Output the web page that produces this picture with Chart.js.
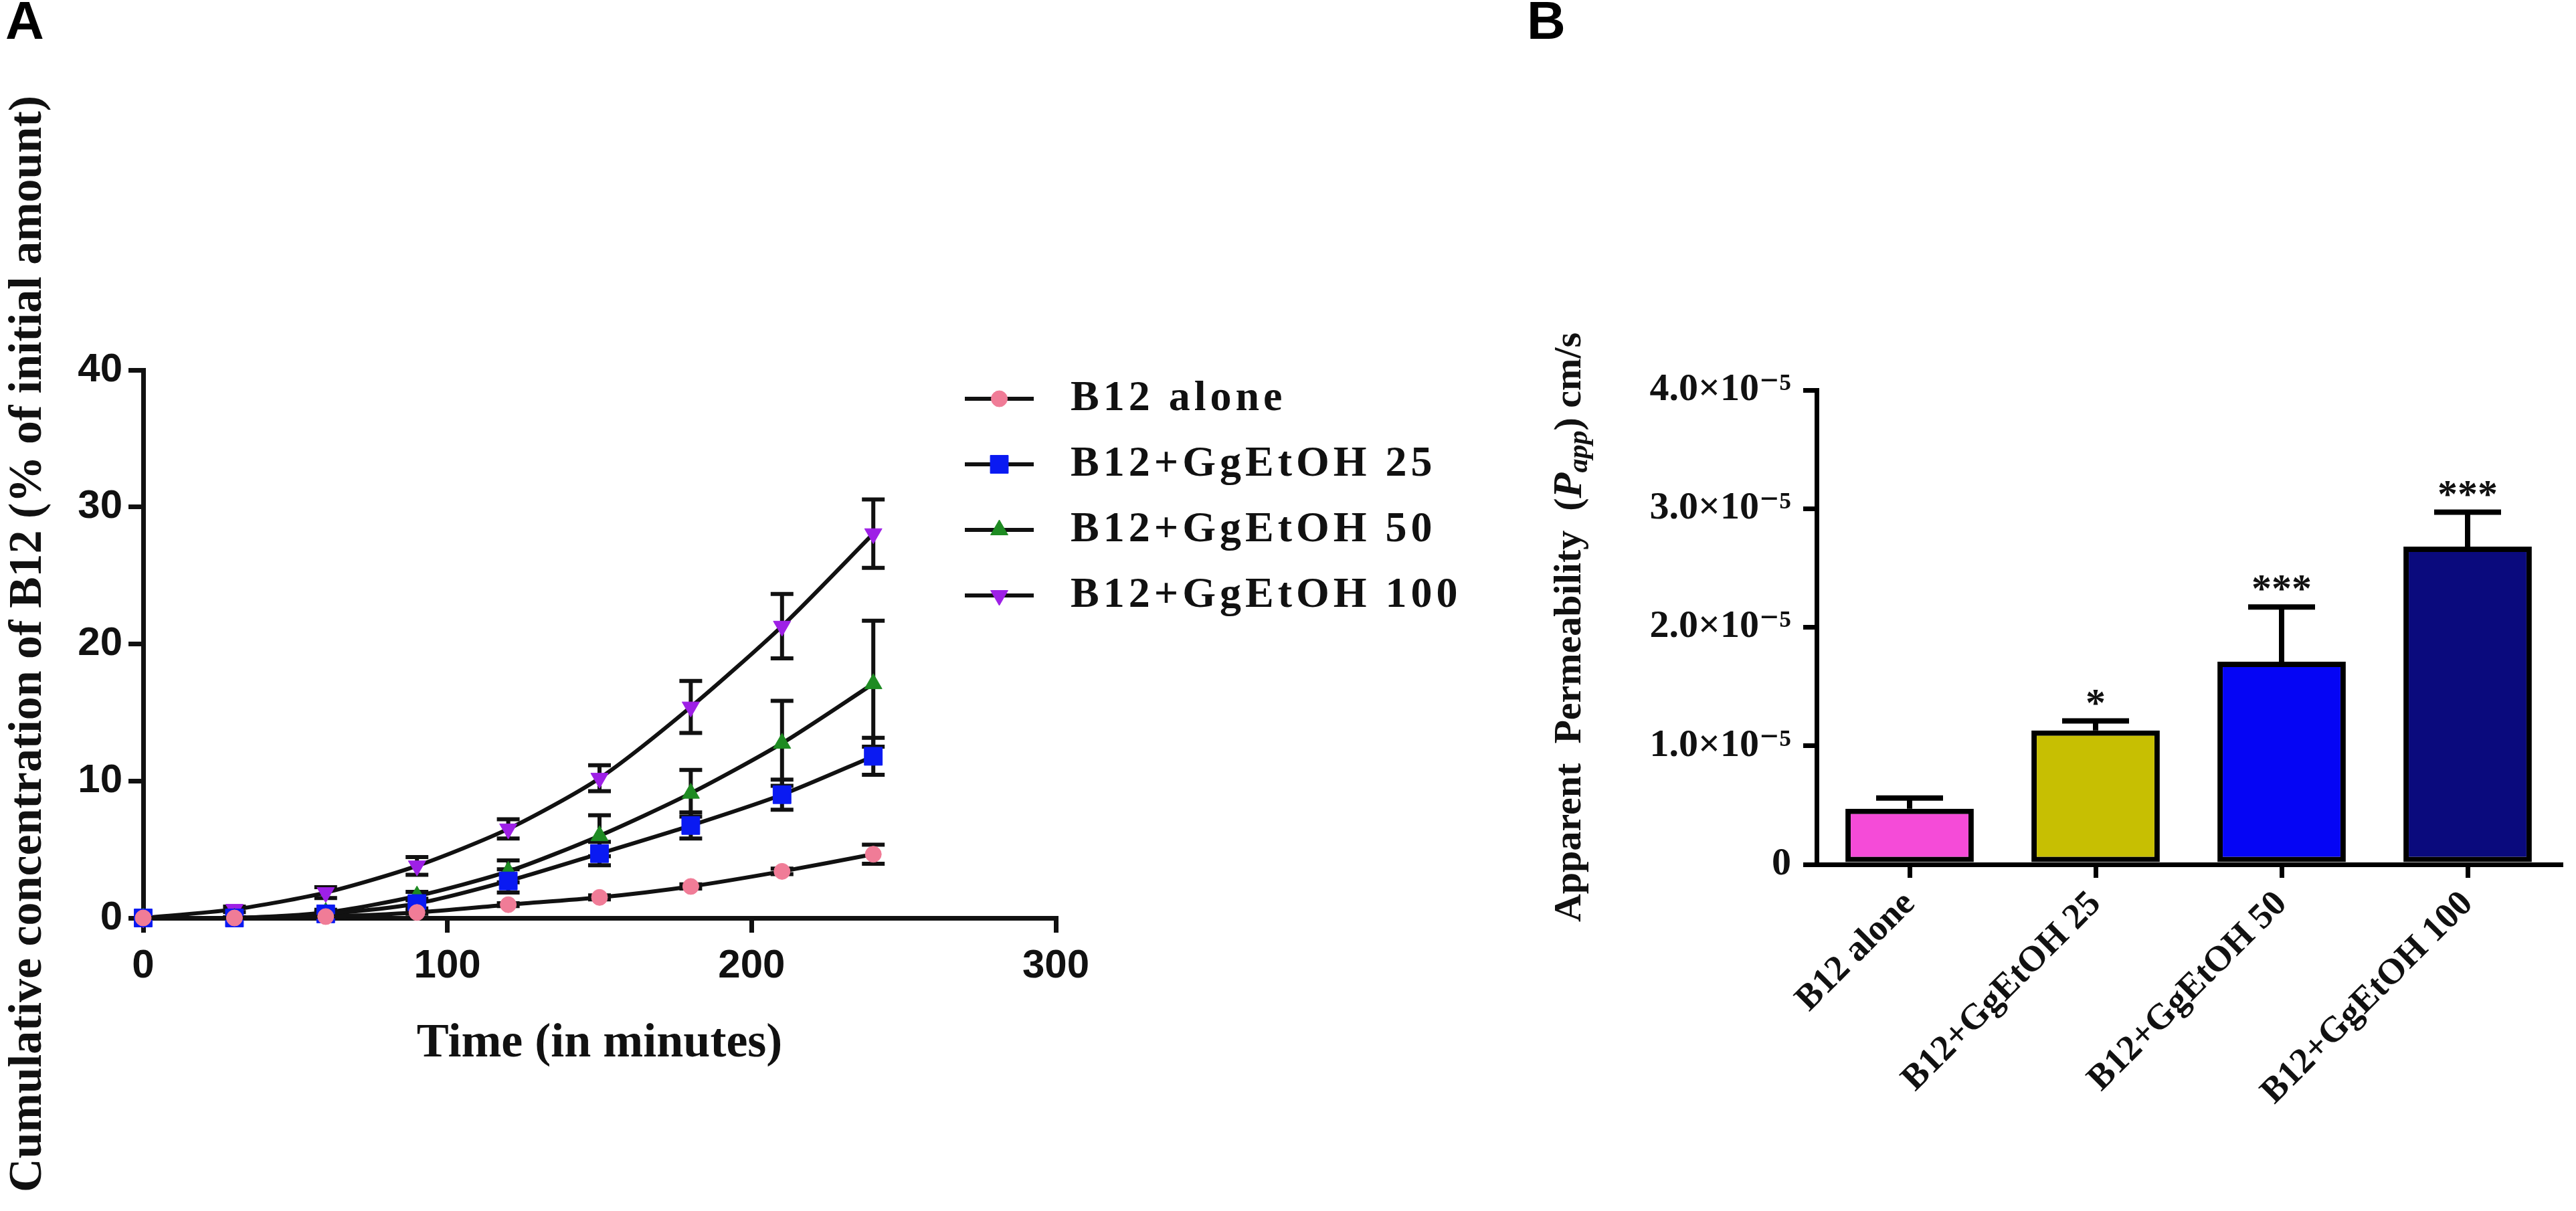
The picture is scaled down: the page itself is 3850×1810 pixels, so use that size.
<!DOCTYPE html>
<html>
<head>
<meta charset="utf-8">
<script src="https://cdn.jsdelivr.net/npm/chart.js@4.4.1/dist/chart.umd.min.js"></script>
<style>
  html, body { margin: 0; padding: 0; background: #fff; }
  body { width: 3850px; height: 1810px; position: relative; overflow: hidden; }
  #chartA { position: absolute; left: 0; top: 0; }
  #chartB { position: absolute; left: 2250px; top: 0; }
</style>
</head>
<body>
<canvas id="chartA" width="2250" height="1810"></canvas>
<canvas id="chartB" width="1600" height="1810"></canvas>
<script>
const SERIF = "'Liberation Serif', 'Times New Roman', 'DejaVu Serif', serif";
const SANS = "'Liberation Sans', Arial, sans-serif";

// Panel A - cumulative concentration (% of initial amount) vs time
const times = [0, 30, 60, 90, 120, 150, 180, 210, 240];
const seriesNames = ['B12 alone', 'B12+GgEtOH 25', 'B12+GgEtOH 50', 'B12+GgEtOH 100'];
const alone = [0, 0, 0.1, 0.4, 0.97, 1.5, 2.3, 3.4, 4.65];
const aloneErr = [0, 0, 0.05, 0.1, 0.1, 0.15, 0.15, 0.2, 0.7];
const gg25 = [0, 0, 0.3, 1.05, 2.7, 4.7, 6.75, 9.0, 11.8];
const gg25Err = [0, 0.05, 0.15, 0.35, 0.85, 0.85, 0.95, 1.1, 1.35];
const gg50 = [0, 0, 0.4, 1.6, 3.4, 6.0, 9.1, 12.75, 17.1];
const gg50Err = [0, 0.05, 0.2, 0.3, 0.8, 1.5, 1.7, 3.1, 4.6];
const gg100 = [0, 0.63, 1.85, 3.8, 6.5, 10.2, 15.4, 21.3, 28.05];
const gg100Err = [0, 0.2, 0.4, 0.65, 0.7, 0.95, 1.9, 2.35, 2.5];
const xTicksA = [0, 100, 200, 300];
const yTicksA = [0, 10, 20, 30, 40];

// Panel B - apparent permeability
const papp = [0.47e-5, 1.13e-5, 1.71e-5, 2.68e-5];
const pappErr = [0.09e-5, 0.08e-5, 0.46e-5, 0.29e-5];
const stars = ['', '*', '***', '***'];
const yTicksB = [0, 1e-5, 2e-5, 3e-5, 4e-5];

const pts = vals => times.map((t, i) => ({ x: t, y: vals[i] }));

function lineSet(label, vals, err, color, style, radius, rotation) {
  return {
    label: label, data: pts(vals), err: err,
    borderColor: '#111', borderWidth: 6, tension: 0.25,
    pointStyle: style, pointRadius: radius, pointRotation: rotation || 0,
    pointBackgroundColor: color, pointBorderColor: color, pointBorderWidth: 1,
    clip: false
  };
}

const errorBarsA = {
  id: 'errorBarsA',
  beforeDatasetsDraw(chart) {
    const { ctx, scales: { x, y } } = chart;
    ctx.save();
    ctx.strokeStyle = '#111';
    ctx.lineWidth = 6;
    chart.data.datasets.forEach(ds => {
      ds.data.forEach((p, i) => {
        const e = ds.err[i];
        if (!e) return;
        const px = x.getPixelForValue(p.x);
        const top = y.getPixelForValue(p.y + e);
        const bot = y.getPixelForValue(p.y - e);
        ctx.beginPath();
        ctx.moveTo(px, top); ctx.lineTo(px, bot);
        ctx.moveTo(px - 17, top); ctx.lineTo(px + 17, top);
        ctx.moveTo(px - 17, bot); ctx.lineTo(px + 17, bot);
        ctx.stroke();
      });
    });
    ctx.restore();
  }
};

const legendA = {
  id: 'legendA',
  afterDraw(chart) {
    const { ctx, chartArea } = chart;
    const x0 = chartArea.right - 136, x1 = chartArea.right - 33, tx = chartArea.right + 22;
    ctx.save();
    chart.data.datasets.forEach((ds, i) => {
      const yy = chartArea.top + 43 + i * 98;
      ctx.strokeStyle = '#111';
      ctx.lineWidth = 6;
      ctx.beginPath(); ctx.moveTo(x0, yy); ctx.lineTo(x1, yy); ctx.stroke();
      ctx.fillStyle = ds.pointBackgroundColor;
      ctx.strokeStyle = ds.pointBorderColor;
      ctx.lineWidth = 1;
      Chart.helpers.drawPoint(ctx, {
        pointStyle: ds.pointStyle, radius: ds.pointRadius,
        rotation: ds.pointRotation, borderWidth: 1
      }, (x0 + x1) / 2, yy);
      ctx.fillStyle = '#111';
      ctx.font = 'bold 64px ' + SERIF;
      ctx.textBaseline = 'middle';
      ctx.textAlign = 'left';
      ctx.letterSpacing = '6px';
      ctx.fillText(ds.label, tx, yy);
      ctx.letterSpacing = '0px';
    });
    ctx.restore();
  }
};

new Chart(document.getElementById('chartA'), {
  type: 'line',
  data: {
    datasets: [
      lineSet(seriesNames[0], alone, aloneErr, '#F07C97', 'circle', 12),
      lineSet(seriesNames[1], gg25, gg25Err, '#0A1AF2', 'rect', 19),
      lineSet(seriesNames[2], gg50, gg50Err, '#1E8B22', 'triangle', 15),
      lineSet(seriesNames[3], gg100, gg100Err, '#9E20E6', 'triangle', 15, 180)
    ]
  },
  options: {
    responsive: false,
    animation: false,
    devicePixelRatio: 1,
    layout: { padding: { left: 8, top: 0, right: 672, bottom: 214 } },
    plugins: {
      legend: { display: false },
      tooltip: { enabled: false },
      title: {
        display: true, text: 'A', align: 'start', color: '#000',
        font: { family: SANS, size: 80, weight: 'bold', lineHeight: 0.9 },
        padding: { top: 0, bottom: 481 }
      }
    },
    scales: {
      x: {
        type: 'linear', min: 0, max: 300,
        afterBuildTicks: s => { s.ticks = xTicksA.map(v => ({ value: v })); },
        afterFit: s => { s.height = 224; },
        border: { display: true, color: '#111', width: 7 },
        grid: { drawOnChartArea: false, drawTicks: true, tickLength: 22, lineWidth: 7, color: '#111' },
        ticks: { color: '#111', padding: 14, font: { family: SANS, size: 60, weight: 'bold' } },
        title: {
          display: true, text: 'Time (in minutes)', color: '#111',
          font: { family: SERIF, size: 72, weight: 'bold', lineHeight: 1.0 },
          padding: 0
        }
      },
      y: {
        min: 0, max: 40,
        afterBuildTicks: s => { s.ticks = yTicksA.map(v => ({ value: v })); },
        afterFit: s => { s.width = 206; },
        border: { display: true, color: '#111', width: 7 },
        grid: { drawOnChartArea: false, drawTicks: true, tickLength: 22, lineWidth: 7, color: '#111' },
        ticks: { color: '#111', padding: 9, font: { family: SANS, size: 60, weight: 'bold' } },
        title: {
          display: true, text: 'Cumulative concentration of B12 (% of initial amount)', color: '#111',
          font: { family: SERIF, size: 70, weight: 'bold', lineHeight: 1.0 },
          padding: 0
        }
      }
    }
  },
  plugins: [errorBarsA, legendA]
});

const barErrorsB = {
  id: 'barErrorsB',
  afterDatasetsDraw(chart) {
    const { ctx, scales: { x, y } } = chart;
    const ds = chart.data.datasets[0];
    ctx.save();
    ctx.strokeStyle = '#000';
    ctx.lineWidth = 8;
    ds.data.forEach((v, i) => {
      const px = x.getPixelForValue(i);
      const base = y.getPixelForValue(v);
      const top = y.getPixelForValue(v + ds.err[i]);
      ctx.beginPath();
      ctx.moveTo(px, base); ctx.lineTo(px, top);
      ctx.moveTo(px - 50, top); ctx.lineTo(px + 50, top);
      ctx.stroke();
      if (stars[i]) {
        ctx.fillStyle = '#111';
        ctx.font = 'bold 60px ' + SERIF;
        ctx.textAlign = 'center';
        ctx.textBaseline = 'alphabetic';
        ctx.fillText(stars[i], px, top - 8);
      }
    });
    ctx.restore();
  }
};

const yTitleB = {
  id: 'yTitleB',
  afterDraw(chart) {
    const { ctx, chartArea, scales: { y } } = chart;
    const cx = y.left + 65, cy = (chartArea.top + chartArea.bottom) / 2;
    const segs = [
      { t: 'Apparent  Permeability  (', f: 'bold 58px ' + SERIF, dy: 0 },
      { t: 'P', f: 'italic bold 62px ' + SERIF, dy: 0 },
      { t: 'app', f: 'italic bold 42px ' + SERIF, dy: 14 },
      { t: ') cm/s', f: 'bold 58px ' + SERIF, dy: 0 }
    ];
    ctx.save();
    ctx.translate(cx, cy);
    ctx.rotate(-Math.PI / 2);
    ctx.fillStyle = '#111';
    ctx.textBaseline = 'middle';
    ctx.textAlign = 'left';
    let total = 0;
    segs.forEach(s => { ctx.font = s.f; s.w = ctx.measureText(s.t).width; total += s.w; });
    let xx = -total / 2;
    segs.forEach(s => { ctx.font = s.f; ctx.fillText(s.t, xx, s.dy); xx += s.w; });
    ctx.restore();
  }
};

new Chart(document.getElementById('chartB'), {
  type: 'bar',
  data: {
    labels: seriesNames,
    datasets: [{
      data: papp, err: pappErr,
      backgroundColor: ['#F54BD8', '#C7BF02', '#0505F5', '#0A0A7D'],
      borderColor: '#000', borderWidth: 8, borderSkipped: false,
      barPercentage: 0.69, categoryPercentage: 1
    }]
  },
  options: {
    responsive: false,
    animation: false,
    devicePixelRatio: 1,
    layout: { padding: { left: 32, top: 0, right: 23, bottom: 0 } },
    plugins: {
      legend: { display: false },
      tooltip: { enabled: false },
      title: {
        display: true, text: 'B', align: 'start', color: '#000',
        font: { family: SANS, size: 80, weight: 'bold', lineHeight: 0.9 },
        padding: { top: 0, bottom: 511 }
      }
    },
    scales: {
      x: {
        afterFit: s => { s.height = 518; },
        border: { display: true, color: '#000', width: 7 },
        grid: { offset: false, drawOnChartArea: false, drawTicks: true, tickLength: 20, lineWidth: 7, color: '#000' },
        ticks: {
          color: '#111', padding: 8, autoSkip: false, minRotation: 45, maxRotation: 45,
          font: { family: SERIF, size: 54, weight: 'bold' }
        }
      },
      y: {
        min: 0, max: 4e-5,
        afterBuildTicks: s => { s.ticks = yTicksB.map(v => ({ value: v })); },
        afterFit: s => { s.width = 433; },
        border: { display: true, color: '#000', width: 7 },
        grid: { drawOnChartArea: false, drawTicks: true, tickLength: 20, lineWidth: 7, color: '#000' },
        ticks: {
          color: '#111', padding: 18,
          font: { family: SERIF, size: 58, weight: 'bold' },
          callback: v => v === 0 ? '0' : (v * 1e5).toFixed(1) + '\u00D710\u207B\u2075'
        }
      }
    }
  },
  plugins: [barErrorsB, yTitleB]
});
</script>
</body>
</html>
